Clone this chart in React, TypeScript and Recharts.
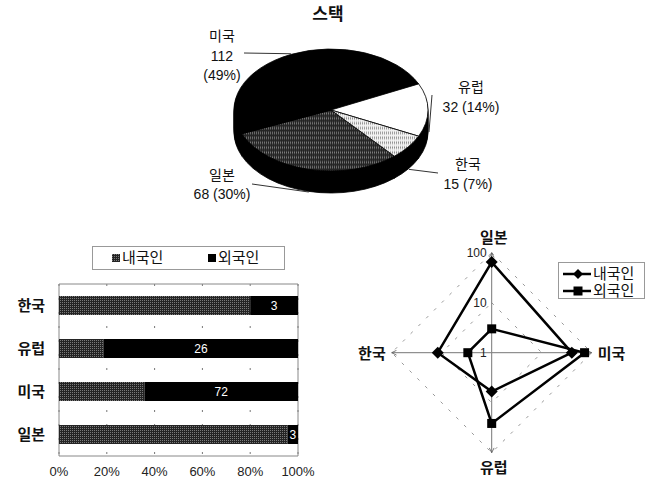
import React from 'react';
import {
  PieChart, Pie, Cell, BarChart, Bar, XAxis, YAxis, CartesianGrid, Legend, LabelList,
  ReferenceArea, RadarChart, Radar, PolarGrid, PolarAngleAxis, PolarRadiusAxis,
} from 'recharts';

// ---------- data ----------
const pieTitle = '스택';
const countries = ['일본', '미국', '유럽', '한국'];
const totals = [68, 112, 32, 15];
const domestic = [65, 40, 6, 12];
const foreign = [3, 72, 26, 3];
const seriesNames = ['내국인', '외국인'];
const percentTicks = [0, 0.2, 0.4, 0.6, 0.8, 1];
const logTicks = [1, 10, 100];

const pieData = countries.map((name, i) => ({ name, value: totals[i] }));
const barData = countries.map((name, i) => ({ name, [seriesNames[0]]: domestic[i], [seriesNames[1]]: foreign[i] }));
const radarData = barData;

// ---------- style ----------
const FONT = "'Liberation Sans', 'Noto Sans CJK KR', sans-serif";
const sliceFill: Record<string, string> = {
  '일본': 'url(#darkDots)', '미국': '#000', '유럽': '#fff', '한국': 'url(#lightDots)',
};
const PIE_CX = 331;
const PIE_CY = 110;
const PIE_R = 97;
const SY = 61 / 97;
const THICK = 22;
const SIDE_STEPS = 11;
const START_ANGLE = -49.2;
const pieLabelLayout: Record<string, { x: number; y: number; gap: number; lx: number; ly: number; split: boolean }> = {
  '미국': { x: 222, y: 36, gap: 19.5, lx: 244, ly: 53, split: true },
  '유럽': { x: 471, y: 86.5, gap: 20, lx: 432, ly: 95, split: false },
  '한국': { x: 468, y: 163.5, gap: 20.5, lx: 438, ly: 173, split: false },
  '일본': { x: 222, y: 175, gap: 18.5, lx: 252, ly: 184, split: false },
};

const RADAR_CX = 161.7;
const RADAR_CY = 127.7;

const renderPieLabel = (props: any) => {
  const { cx, cy, midAngle, value, percent } = props;
  const name = props.name ?? props.payload?.name;
  const L = pieLabelLayout[name];
  if (!L) return null;
  const fcx = cx;
  const fcy = cy * SY;
  const rad = (midAngle * Math.PI) / 180;
  const ex = fcx + (PIE_R + 1) * Math.cos(rad);
  let ey = fcy - (PIE_R + 1) * SY * Math.sin(rad);
  if (Math.sin(rad) < 0.2) ey += THICK;
  const pct = `(${Math.round(percent * 100)}%)`;
  const lines = L.split ? [name, String(value), pct] : [name, `${value} ${pct}`];
  return (
    <g transform={`scale(1, ${1 / SY})`}>
      <line x1={L.lx} y1={L.ly} x2={ex} y2={ey} stroke="#333" strokeWidth={1} />
      {lines.map((t, i) => (
        <text key={i} x={L.x} y={L.y + i * L.gap} textAnchor="middle" dominantBaseline="central"
          fontSize={14} fill="#111" fontFamily={FONT}>{t}</text>
      ))}
    </g>
  );
};

const renderBarLegend = (props: any) => {
  const payload = props.payload || [];
  return (
    <div style={{ position: 'relative', width: 193, height: 24, border: '1px solid #999', boxSizing: 'border-box', fontFamily: FONT }}>
      {payload.map((entry: any, i: number) => (
        <div key={i} style={{ position: 'absolute', left: 19 + i * 96, top: 0, height: 22, display: 'flex', alignItems: 'center' }}>
          <svg width={8} height={8} style={{ display: 'block' }}>
            <rect width={8} height={8} fill={entry.color} />
          </svg>
          <span style={{ fontSize: 15, color: '#111', marginLeft: 2, lineHeight: '22px' }}>{entry.value}</span>
        </div>
      ))}
    </div>
  );
};

const diamondPath = (x: number, y: number, r: number) => `M${x},${y - r}L${x + r},${y}L${x},${y + r}L${x - r},${y}Z`;

const renderDiamond = (p: any) => (
  <path key={`d${p.index}`} d={diamondPath(p.cx, p.cy, 6)} fill="#000" />
);
const renderSquare = (p: any) => (
  <rect key={`s${p.index}`} x={p.cx - 4.5} y={p.cy - 4.5} width={9} height={9} fill="#000" />
);

const renderRadarLegend = (props: any) => {
  const payload = props.payload || [];
  return (
    <div style={{ position: 'relative', width: 87, height: 37, border: '1px solid #999', boxSizing: 'border-box', fontFamily: FONT }}>
      {payload.map((entry: any, i: number) => (
        <div key={i} style={{ position: 'absolute', left: 3, top: 2 + i * 17, height: 17, display: 'flex', alignItems: 'center' }}>
          <svg width={30} height={14} style={{ display: 'block' }}>
            <line x1={1} y1={7} x2={29} y2={7} stroke="#000" strokeWidth={2.5} />
            {i === 0 ? <path d={diamondPath(16, 7, 5)} fill="#000" /> : <rect x={11.5} y={2.5} width={9} height={9} fill="#000" />}
          </svg>
          <span style={{ fontSize: 15, color: '#111', marginLeft: 1, lineHeight: '17px' }}>{entry.value}</span>
        </div>
      ))}
    </div>
  );
};

const renderAngleTick = (props: any) => {
  const { payload } = props;
  const a = ((payload?.coordinate ?? 0) * Math.PI) / 180;
  const c = Math.cos(a);
  const s = Math.sin(a);
  let x: number, y: number, anchor: string;
  if (Math.abs(c) > 0.5) {
    x = RADAR_CX + c * 106;
    y = RADAR_CY + 1;
    anchor = c > 0 ? 'start' : 'end';
  } else {
    x = RADAR_CX + 2;
    y = RADAR_CY - s * 115;
    anchor = 'middle';
  }
  return (
    <text x={x} y={y} textAnchor={anchor} dominantBaseline="central" fontSize={15} fontWeight={700}
      fill="#111" fontFamily={FONT}>{payload.value}</text>
  );
};

const renderRadiusTick = (props: any) => {
  const { x, y, payload } = props;
  return (
    <text x={x - 5} y={y} textAnchor="end" dominantBaseline="central" fontSize={12} fill="#222" fontFamily={FONT}>
      {payload.value}
    </text>
  );
};

export default function App() {
  const cyU = PIE_CY / SY;
  const stepU = THICK / SY / SIDE_STEPS;
  const sideSteps = Array.from({ length: SIDE_STEPS }, (_, k) => SIDE_STEPS - k);
  return (
    <div style={{ position: 'absolute', left: 0, top: 0, width: 653, height: 482, background: '#fff', fontFamily: FONT, overflow: 'hidden' }}>
      <svg width={0} height={0} style={{ position: 'absolute' }}>
        <defs>
          <pattern id="darkDots" width={2} height={2} patternUnits="userSpaceOnUse">
            <rect width={2} height={2} fill="#242424" />
            <rect x={0} y={0} width={1} height={1} fill="#7a7a7a" />
          </pattern>
          <pattern id="lightDots" width={2} height={2} patternUnits="userSpaceOnUse">
            <rect width={2} height={2} fill="#f2f2f2" />
            <rect x={0} y={0} width={1} height={1} fill="#8a8a8a" />
          </pattern>
          <marker id="axisArrow" viewBox="0 0 10 10" refX={9} refY={5} markerWidth={6} markerHeight={6} orient="auto">
            <path d="M1,1 L9,5 L1,9" fill="none" stroke="#555" strokeWidth={1.3} />
          </marker>
        </defs>
      </svg>

      <div style={{ position: 'absolute', left: 300, top: 5, width: 56, textAlign: 'center', fontSize: 17, fontWeight: 700, lineHeight: '20px', color: '#111', fontFamily: FONT }}>
        {pieTitle}
      </div>

      <div style={{ position: 'absolute', left: 0, top: 0, width: 653, height: 330, transform: `scaleY(${SY})`, transformOrigin: '0 0' }}>
        <PieChart width={653} height={330} margin={{ top: 0, right: 0, bottom: 0, left: 0 }}>
          {sideSteps.map((k) => (
            <Pie key={`side${k}`} data={pieData} dataKey="value" nameKey="name" cx={PIE_CX} cy={cyU + k * stepU}
              outerRadius={PIE_R} startAngle={START_ANGLE} endAngle={START_ANGLE - 360}
              fill="#000" stroke="#000" isAnimationActive={false} label={false} labelLine={false} />
          ))}
          <Pie data={pieData} dataKey="value" nameKey="name" cx={PIE_CX} cy={cyU} outerRadius={PIE_R}
            startAngle={START_ANGLE} endAngle={START_ANGLE - 360} stroke="#000" strokeWidth={1}
            isAnimationActive={false} label={renderPieLabel} labelLine={false}>
            {pieData.map((d) => (
              <Cell key={d.name} fill={sliceFill[d.name]} />
            ))}
          </Pie>
        </PieChart>
      </div>

      <div style={{ position: 'absolute', left: 0, top: 230 }}>
        <BarChart width={330} height={252} data={barData} layout="vertical" stackOffset="expand"
          margin={{ top: 54, right: 32, bottom: 0, left: 0 }} barSize={19}>
          <CartesianGrid horizontal={false} strokeDasharray="2 12" stroke="#777" />
          <XAxis type="number" domain={[0, 1]} ticks={percentTicks} tickFormatter={(v: number) => `${Math.round(v * 100)}%`}
            axisLine={false} tickLine={false} tickMargin={5} height={26}
            tick={{ fontSize: 13, fill: '#222', fontFamily: FONT }} />
          <YAxis type="category" dataKey="name" reversed width={59} axisLine={false} tickLine={false} tickMargin={8}
            tick={{ fontSize: 15, fill: '#111', fontWeight: 700, fontFamily: FONT }} />
          <Bar dataKey={seriesNames[0]} stackId="a" fill="url(#darkDots)" isAnimationActive={false} />
          <Bar dataKey={seriesNames[1]} stackId="a" fill="#000" isAnimationActive={false}>
            <LabelList dataKey={seriesNames[1]} position="center" fill="#fff" fontSize={12} fontFamily={FONT} />
          </Bar>
          <ReferenceArea x1={0} x2={1} fill="none" stroke="#888" strokeWidth={1} ifOverflow="visible" />
          <Legend layout="horizontal" verticalAlign="middle" align="center" content={renderBarLegend}
            wrapperStyle={{ position: 'absolute', left: 92, top: 16, width: 193, height: 24 }} />
        </BarChart>
      </div>

      <div style={{ position: 'absolute', left: 330, top: 225 }}>
        <RadarChart width={323} height={257} data={radarData} cx={RADAR_CX} cy={RADAR_CY} outerRadius={100}
          startAngle={90} endAngle={-270} margin={{ top: 0, right: 0, bottom: 0, left: 0 }}>
          <PolarGrid gridType="polygon" radialLines={false} stroke="#999" strokeDasharray="3 8" />
          <PolarGrid gridType="polygon" radialLines polarRadius={[]} stroke="#777" strokeWidth={1} markerEnd="url(#axisArrow)" />
          <PolarAngleAxis dataKey="name" tick={renderAngleTick} axisLine={false} tickLine={false} />
          <PolarRadiusAxis angle={90} scale="log" domain={[1, 100]} ticks={logTicks} axisLine={false} tickLine={false}
            tick={renderRadiusTick} />
          <Radar name={seriesNames[0]} dataKey={seriesNames[0]} stroke="#000" strokeWidth={2.5} fill="none" fillOpacity={0}
            dot={renderDiamond} isAnimationActive={false} />
          <Radar name={seriesNames[1]} dataKey={seriesNames[1]} stroke="#000" strokeWidth={2.5} fill="none" fillOpacity={0}
            dot={renderSquare} isAnimationActive={false} />
          <Legend layout="horizontal" verticalAlign="middle" align="center" content={renderRadarLegend}
            wrapperStyle={{ position: 'absolute', left: 228, top: 37, width: 87, height: 37 }} />
        </RadarChart>
      </div>
    </div>
  );
}
